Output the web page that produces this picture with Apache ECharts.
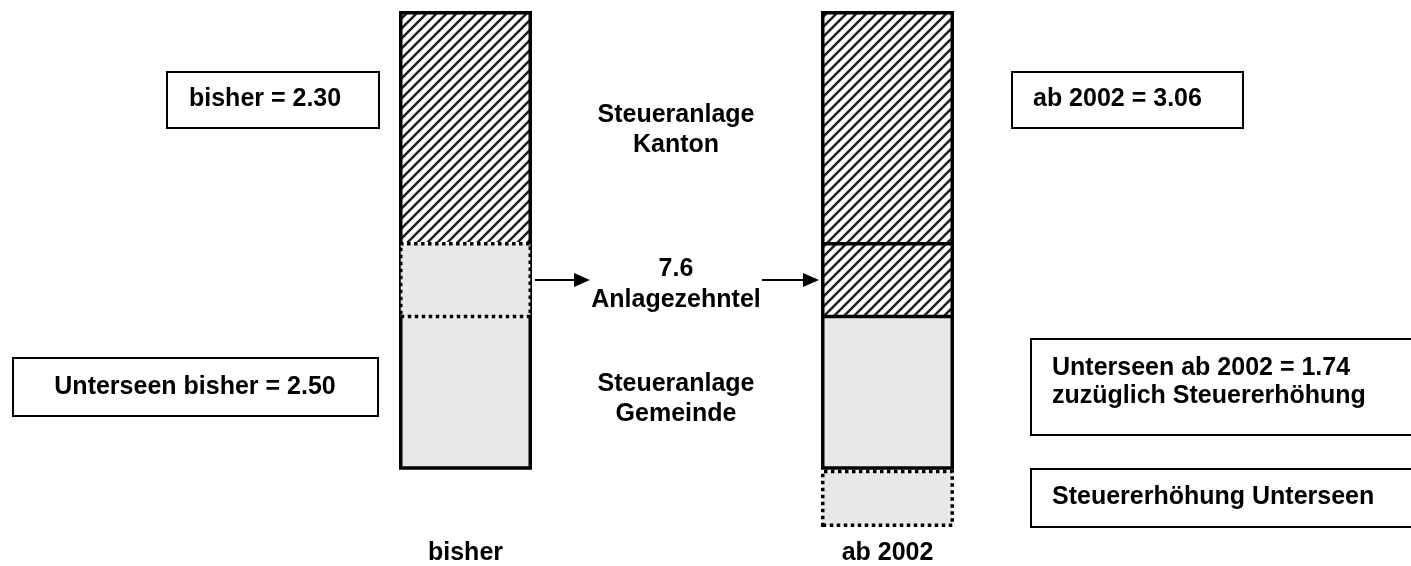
<!DOCTYPE html>
<html>
<head>
<meta charset="utf-8">
<script src="https://cdn.jsdelivr.net/npm/echarts@6/dist/echarts.min.js"></script>
<style>
  html, body { margin: 0; padding: 0; background: #fff; }
  #chart { width: 1411px; height: 566px; }
</style>
</head>
<body>
<div id="chart"></div>
<script>
// === Daten (Steueranlagen, Höhen wie im Bild gezeichnet) ===
const kategorien = ["bisher", "ab 2002"];
const sockel = [0.57, 0];        // leerer Sockel: "bisher" beginnt auf Höhe der Gemeindeanlage
const erhoehung = [0, 0.57];     // Steuererhöhung Unterseen
const gemeinde = [1.51, 1.51];   // Steueranlage Gemeinde (Rest)
const zehntel = [0.76, 0.76];    // 7.6 Anlagezehntel
const kanton = [2.30, 2.30];     // Steueranlage Kanton

const GRAU = "#e8e8e8";
const FONT = 'bold 25px "Liberation Sans", Arial, sans-serif';

// Schraffur (/) als Canvas-Muster
function schraffur() {
    const c = document.createElement("canvas");
    c.width = 10; c.height = 10;
    const ctx = c.getContext("2d");
    ctx.fillStyle = "#fff";
    ctx.fillRect(0, 0, 10, 10);
    ctx.strokeStyle = "#222";
    ctx.lineWidth = 2.6;
    [[-5, 5, 5, -5], [0, 10, 10, 0], [5, 15, 15, 5]].forEach(([a, b, d, e]) => {
        ctx.beginPath(); ctx.moveTo(a, b); ctx.lineTo(d, e); ctx.stroke();
    });
    return { image: c, repeat: "repeat" };
}
const hatch = schraffur();

const gesamt = kategorien.map((_, i) => sockel[i] + erhoehung[i] + gemeinde[i] + zehntel[i] + kanton[i]);
// Umrandung: von Gemeinde bis Kanton
const rahmenSockel = kategorien.map((_, i) => sockel[i] + erhoehung[i]);
const rahmen = kategorien.map((_, i) => gemeinde[i] + zehntel[i] + kanton[i]);

const BW = 133;
const basis = { type: "bar", barWidth: BW, barGap: "-100%", silent: true };
const punktiert = { color: GRAU, borderColor: "#000", borderWidth: 3.5, borderType: [3.5, 3.5] };

const chart = echarts.init(document.getElementById("chart"));

function box(x, y, w, h) {
    return { type: "rect", shape: { x, y, width: w, height: h }, style: { fill: "#fff", stroke: "#000", lineWidth: 2 }, z: 10 };
}
function text(t, x, y, align, lh) {
    return { type: "text", x, y, z: 11, style: { text: t, fill: "#000", font: FONT, align, verticalAlign: "middle", lineHeight: lh || 30 } };
}
function pfeil(x1, x2, y) {
    return [
        { type: "line", shape: { x1, y1: y, x2: x2 - 14, y2: y }, style: { stroke: "#000", lineWidth: 2 }, z: 10 },
        { type: "polygon", shape: { points: [[x2 - 16, y - 7], [x2, y], [x2 - 16, y + 7]] }, style: { fill: "#000" }, z: 10 }
    ];
}

chart.setOption({
    animation: false,
    backgroundColor: "#fff",
    grid: { left: 254.5, right: 312.5, top: 11, bottom: 39 },
    xAxis: {
        type: "category",
        data: kategorien,
        axisLine: { show: false },
        axisTick: { show: false },
        axisLabel: { color: "#000", fontWeight: "bold", fontSize: 25, fontFamily: '"Liberation Sans", Arial', margin: 14 }
    },
    yAxis: { type: "value", min: 0, max: Math.max(...gesamt), show: false, splitLine: { show: false } },
    series: [
        { ...basis, name: "Sockel", stack: "a", data: sockel, itemStyle: { color: "transparent" }, z: 1 },
        { ...basis, name: "Steuererhöhung", stack: "a", z: 4,
          data: erhoehung.map(v => v > 0 ? { value: v, itemStyle: punktiert } : "-") },
        { ...basis, name: "Gemeinde", stack: "a", z: 2, data: gemeinde, itemStyle: { color: GRAU } },
        { ...basis, name: "Anlagezehntel", stack: "a", z: 4,
          data: zehntel.map((v, i) => i === 0
              ? { value: v, itemStyle: punktiert }
              : { value: v, itemStyle: { color: hatch, borderColor: "#000", borderWidth: 3.5 } }) },
        { ...basis, name: "Kanton", stack: "a", z: 2, data: kanton, itemStyle: { color: hatch } },
        // äussere Umrandung
        { ...basis, name: "RahmenSockel", stack: "b", data: rahmenSockel, itemStyle: { color: "transparent" }, z: 1 },
        { ...basis, name: "Rahmen", stack: "b", z: 3, data: rahmen,
          itemStyle: { color: "transparent", borderColor: "#000", borderWidth: 3.5 } }
    ],
    graphic: [
        box(167, 72, 212, 56), text("bisher = 2.30", 189, 99, "left"),
        box(13, 358, 365, 58), text("Unterseen bisher = 2.50", 195, 387, "center"),
        box(1012, 72, 231, 56), text("ab 2002 = 3.06", 1033, 99, "left"),
        box(1031, 339, 400, 96), text("Unterseen ab 2002 = 1.74\nzuzüglich Steuererhöhung", 1052, 382, "left", 28),
        box(1031, 469, 400, 58), text("Steuererhöhung Unterseen", 1052, 497, "left"),
        text("Steueranlage\nKanton", 676, 130, "center", 30),
        text("7.6\nAnlagezehntel", 676, 285, "center", 31),
        text("Steueranlage\nGemeinde", 676, 399, "center", 30),
        ...pfeil(535, 590, 280),
        ...pfeil(762, 819, 280)
    ]
});

window.addEventListener("resize", () => chart.resize());
</script>
</body>
</html>
